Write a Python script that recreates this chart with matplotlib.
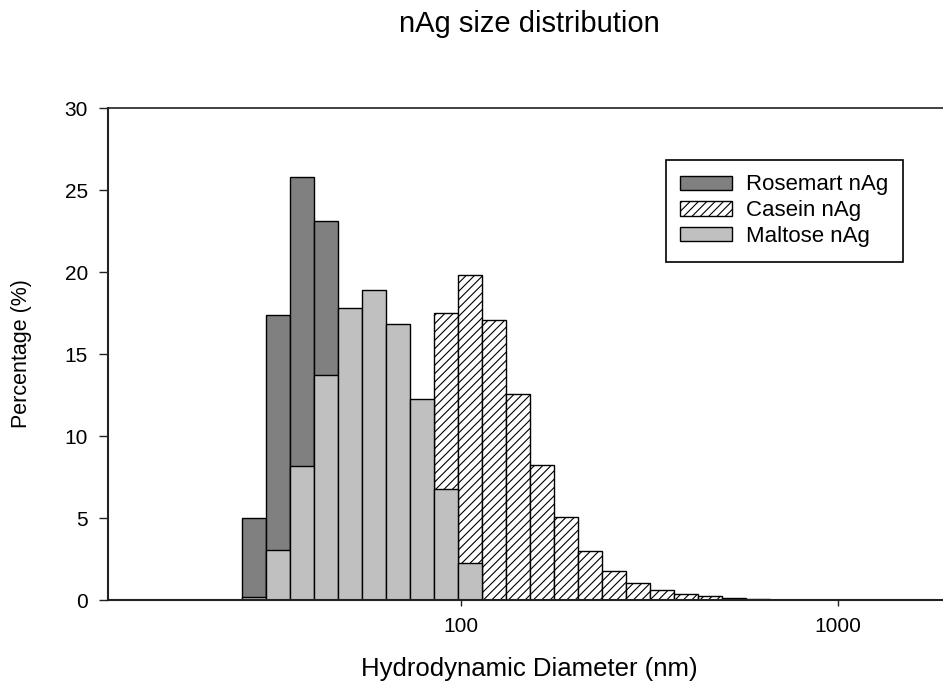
import numpy as np
import matplotlib
matplotlib.use("Agg")
import matplotlib.pyplot as plt

plt.rcParams['font.family'] = ['Liberation Sans', 'DejaVu Sans']
plt.rcParams['hatch.linewidth'] = 0.8
plt.rcParams['hatch.color'] = 'black'

# DLS size classes (nm) and percentage in each class
size_nm = [28.21, 32.67, 37.84, 43.82, 50.75, 58.77, 68.06, 78.82, 91.28, 105.7, 122.4,
           141.8, 164.2, 190.1, 220.2, 255.0, 295.3, 342.0, 396.1, 458.7, 531.2, 615.1]
rosemart = [5.0, 17.4, 25.8, 23.1, 0, 0, 0, 0, 0, 0, 0,
            0, 0, 0, 0, 0, 0, 0, 0, 0, 0, 0]
casein = [0, 0, 0, 0, 0, 0, 0, 0, 17.5, 19.8, 17.1,
          12.55, 8.25, 5.08, 3.0, 1.74, 1.03, 0.64, 0.38, 0.22, 0.13, 0.07]
maltose = [0.2, 3.05, 8.2, 13.75, 17.8, 18.9, 16.8, 12.25, 6.75, 2.25, 0,
           0, 0, 0, 0, 0, 0, 0, 0, 0, 0, 0]

y_ticks = [0, 5, 10, 15, 20, 25, 30]
x_ticks = [100, 1000]

# bar edges at geometric midpoints between classes
s = np.array(size_nm)
mid = np.sqrt(s[1:] * s[:-1])
edges = np.concatenate([[s[0] ** 2 / mid[0]], mid, [s[-1] ** 2 / mid[-1]]])
lefts = edges[:-1]
widths = np.diff(edges)

fig = plt.figure(figsize=(9.43, 6.84), dpi=100)
ax = fig.add_axes([108 / 943, 1 - 600 / 684, 1 - 108 / 943, 492 / 684])


def draw(values, **kw):
    v = np.array(values)
    m = v > 0
    return ax.bar(lefts[m], v[m], width=widths[m], align='edge',
                  edgecolor='black', linewidth=1.0, **kw)


draw(rosemart, color='#808080', label='Rosemart nAg')
draw(casein, color='white', hatch='////', label='Casein nAg')
draw(maltose, color='#c0c0c0', label='Maltose nAg')

ax.set_xscale('log')
ax.set_xlim(11.6, 1900)
ax.set_ylim(0, 30)
ax.set_xticks(x_ticks)
ax.set_xticklabels([str(t) for t in x_ticks])
ax.xaxis.set_minor_locator(matplotlib.ticker.NullLocator())
ax.set_yticks(y_ticks)

ax.tick_params(axis='y', direction='out', length=6.5, width=1.0, pad=8, labelsize=15,
               color='#222222')
ax.tick_params(axis='x', direction='out', length=4.5, width=1.0, pad=8, labelsize=15,
               color='#222222')

for side in ['left', 'bottom']:
    ax.spines[side].set_linewidth(1.5)
    ax.spines[side].set_color('#222222')
ax.spines['top'].set_linewidth(1.2)
ax.spines['top'].set_color('#222222')
ax.spines['right'].set_visible(False)

ax.set_xlabel('Hydrodynamic Diameter (nm)', fontsize=18.5)
ax.xaxis.set_label_coords(0.505, -0.115)
ax.set_ylabel('Percentage (%)', fontsize=15.5, va='center')
ax.yaxis.set_label_coords(-0.104, 0.5)

fig.text(529 / 943, 1 - 32 / 684, 'nAg size distribution', fontsize=21,
         ha='center', va='baseline')

leg = ax.legend(loc='upper left', bbox_to_anchor=(666 / 943, 1 - 160 / 684),
                bbox_transform=fig.transFigure, borderaxespad=0, fontsize=16,
                handlelength=2.3, handleheight=0.6, handletextpad=0.65,
                borderpad=0.65, labelspacing=0.22, fancybox=False,
                edgecolor='black', framealpha=1)
leg.get_frame().set_linewidth(1.2)

fig.savefig('out.png', dpi=100)
